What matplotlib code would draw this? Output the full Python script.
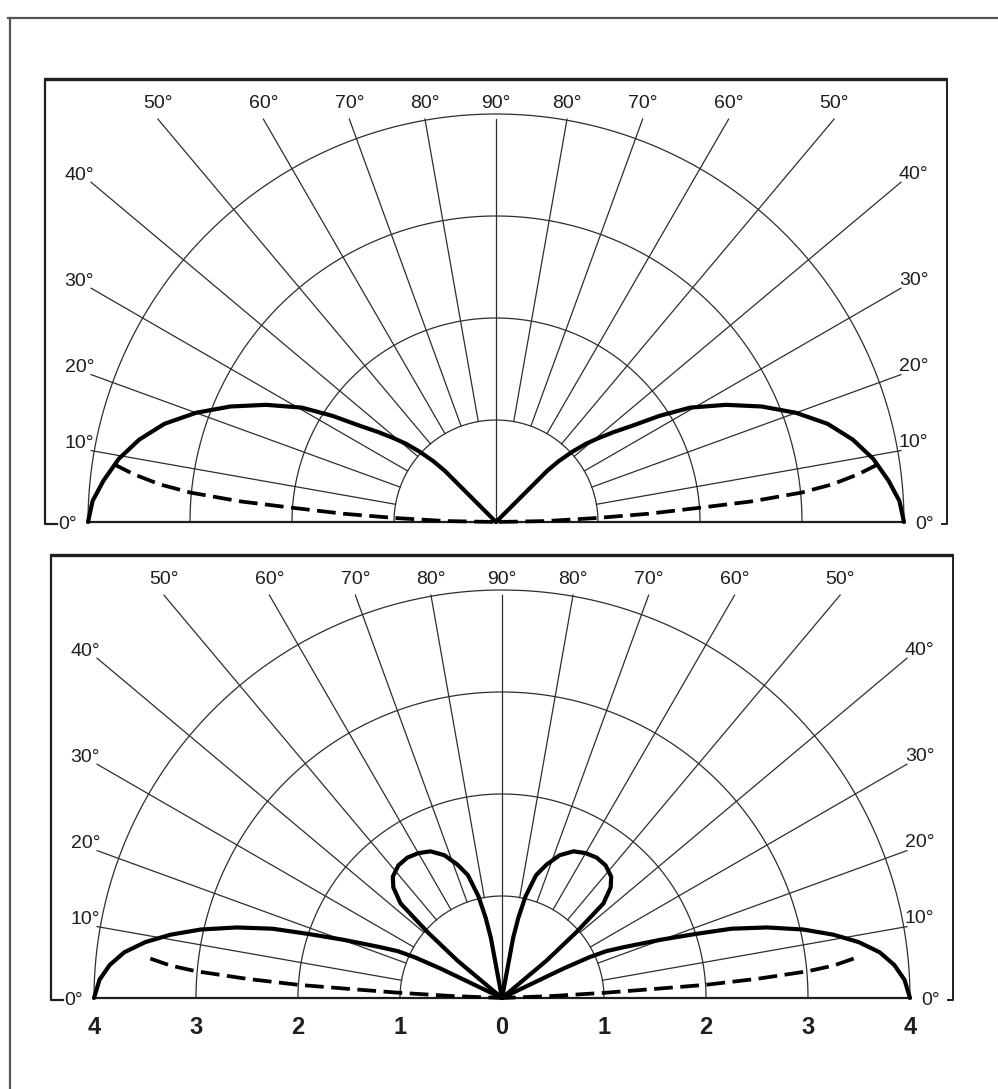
import numpy as np
import matplotlib
matplotlib.use("Agg")
import matplotlib.pyplot as plt
from matplotlib.lines import Line2D

plt.rcParams.update({
    "font.family": ["Liberation Sans", "DejaVu Sans"],
    "font.size": 14,
})

INK = "#1e1e1e"
GRID = "#2e2e2e"

# --- pattern data: elevation angle (deg) vs relative field strength (0..4) ---
# upper diagram
top_lobe_deg = [0, 3, 6, 9.5, 13, 16.5, 20, 23.5, 27, 30.5, 33, 35.1, 37.4,
                39.4, 41.0, 42.6, 44.1, 45, 45]
top_lobe_r = [4.0, 3.96, 3.87, 3.75, 3.59, 3.39, 3.13, 2.84, 2.53, 2.21, 1.91,
              1.65, 1.45, 1.29, 1.17, 1.02, 0.86, 0.71, 0.0]
top_dash_deg = [0, 1.1, 2.3, 3.1, 4.0, 4.6, 5.5, 6.4, 7.5, 8.6]
top_dash_r = [0.0, 0.5, 1.0, 1.5, 2.0, 2.51, 3.01, 3.32, 3.58, 3.79]

# lower diagram
bot_low_deg = [0, 2.6, 4.8, 6.9, 8.9, 10.8, 12.8, 14.9, 16.8, 18.3, 20.2, 22.6,
               24.2, 25.0, 25.6, 26.0]
bot_low_r = [4.0, 3.95, 3.86, 3.73, 3.54, 3.31, 3.03, 2.69, 2.35, 2.0, 1.65,
             1.30, 1.12, 0.95, 0.67, 0.0]
bot_high_deg = [40, 40, 41.5, 43, 45.5, 48, 52, 56, 60, 64, 68, 71.5, 74.5, 77,
                78.5, 79.5, 80]
bot_high_r = [0.0, 0.57, 0.97, 1.36, 1.52, 1.60, 1.65, 1.66, 1.64, 1.60, 1.51,
              1.38, 1.25, 1.02, 0.80, 0.60, 0.0]
bot_dash_deg = [0, 2.3, 2.9, 3.4, 3.7, 4.3, 5.0, 5.6, 6.4]
bot_dash_r = [0.0, 0.5, 1.0, 1.5, 2.0, 2.51, 3.01, 3.27, 3.47]

# grid / labels
ring_radii = [1, 2, 3, 4]
spoke_angles = [10, 20, 30, 40, 50, 60, 70, 80]
x_ticks = [-4, -3, -2, -1, 0, 1, 2, 3, 4]
x_labels = ["4", "3", "2", "1", "0", "1", "2", "3", "4"]

XEND, YEND = 3.97, 3.95          # where the spokes stop
FL, FR, FT = -4.42, 4.42, 4.34   # panel frame


def to_xy(deg, r, side):
    a = np.radians(np.asarray(deg, dtype=float))
    if side < 0:
        a = np.pi - a
    r = np.asarray(r, dtype=float)
    return r * np.cos(a), r * np.sin(a)


def draw_grid(ax):
    t = np.linspace(0, np.pi, 400)
    for rr in ring_radii:
        ax.plot(rr * np.cos(t), rr * np.sin(t), color=GRID, lw=0.9, zorder=1)
    for deg in spoke_angles:
        for side in (-1, 1):
            a = np.radians(deg if side > 0 else 180 - deg)
            c, s = np.cos(a), np.sin(a)
            t_end = min(XEND / abs(c), YEND / s)
            x1, y1 = t_end * c, t_end * s
            ax.plot([c, x1], [s, y1], color=GRID, lw=0.9, zorder=1)
            lab = f"{deg}°"
            if deg >= 50:
                ax.text(x1, y1 + 0.07, lab, ha="center", va="bottom",
                        color=INK)
            elif side < 0:
                ax.text(x1 + 0.03, y1 + 0.07, lab, ha="right", va="center",
                        color=INK)
            else:
                ax.text(x1 - 0.02, y1 + 0.08, lab, ha="left", va="center",
                        color=INK)
    ax.plot([0, 0], [0, YEND], color=GRID, lw=0.9, zorder=1)
    ax.text(0, YEND + 0.07, "90°", ha="center", va="bottom", color=INK)
    # 0 deg line and side labels
    ax.plot([-4, 4], [0, 0], color=INK, lw=1.6, zorder=2)
    ax.text(-4.2, -0.02, "0°", ha="center", va="center", color=INK)
    ax.text(4.2, -0.02, "0°", ha="center", va="center", color=INK)
    # frame
    ax.plot([FL, FR], [FT, FT], color=INK, lw=2.4, solid_capstyle="butt")
    ax.plot([FL, FL, FL + 0.12], [FT, -0.02, -0.02], color=INK, lw=1.6)
    ax.plot([FR, FR, FR - 0.05], [FT, -0.02, -0.02], color=INK, lw=1.4)


def draw_solid(ax, deg, r):
    for side in (-1, 1):
        x, y = to_xy(deg, r, side)
        ax.plot(x, y, color="black", lw=3.0, zorder=4,
                solid_joinstyle="round", solid_capstyle="round")


def draw_dashed(ax, deg, r):
    # start the dash pattern at the outer end of the curve
    for side in (-1, 1):
        x, y = to_xy(deg[::-1], r[::-1], side)
        ax.plot(x, y, color="black", lw=2.7, zorder=4, dashes=(5, 2))


W, H = 998, 1089
S = 102.0  # pixels per unit
fig = plt.figure(figsize=(W / 100, H / 100), dpi=100)
fig.patch.set_facecolor("white")

XL, XR, YB, YT = -4.6, 4.6, -0.45, 4.45


def make_axes(cx, cy):
    left = cx + XL * S
    bottom = cy - YB * S
    w = (XR - XL) * S
    h = (YT - YB) * S
    ax = fig.add_axes([left / W, (H - bottom) / H, w / W, h / H])
    ax.set_xlim(XL, XR)
    ax.set_ylim(YB, YT)
    ax.axis("off")
    return ax


ax1 = make_axes(496, 522)
draw_grid(ax1)
draw_solid(ax1, top_lobe_deg, top_lobe_r)
draw_dashed(ax1, top_dash_deg, top_dash_r)

ax2 = make_axes(502, 998)
draw_grid(ax2)
draw_solid(ax2, bot_low_deg, bot_low_r)
draw_solid(ax2, bot_high_deg, bot_high_r)
draw_dashed(ax2, bot_dash_deg, bot_dash_r)
for xv, lab in zip(x_ticks, x_labels):
    ax2.text(xv, -0.29, lab, ha="center", va="center", fontsize=17,
             fontweight="bold", color=INK)

# page border of the scan
fig.add_artist(Line2D([8 / W, 1.0], [1 - 18 / H, 1 - 18 / H],
                      transform=fig.transFigure, color="#555555", lw=1.6))
fig.add_artist(Line2D([10 / W, 10 / W], [0, 1 - 18 / H],
                      transform=fig.transFigure, color="#555555", lw=1.6))

fig.savefig("out.png", dpi=100, facecolor="white")
